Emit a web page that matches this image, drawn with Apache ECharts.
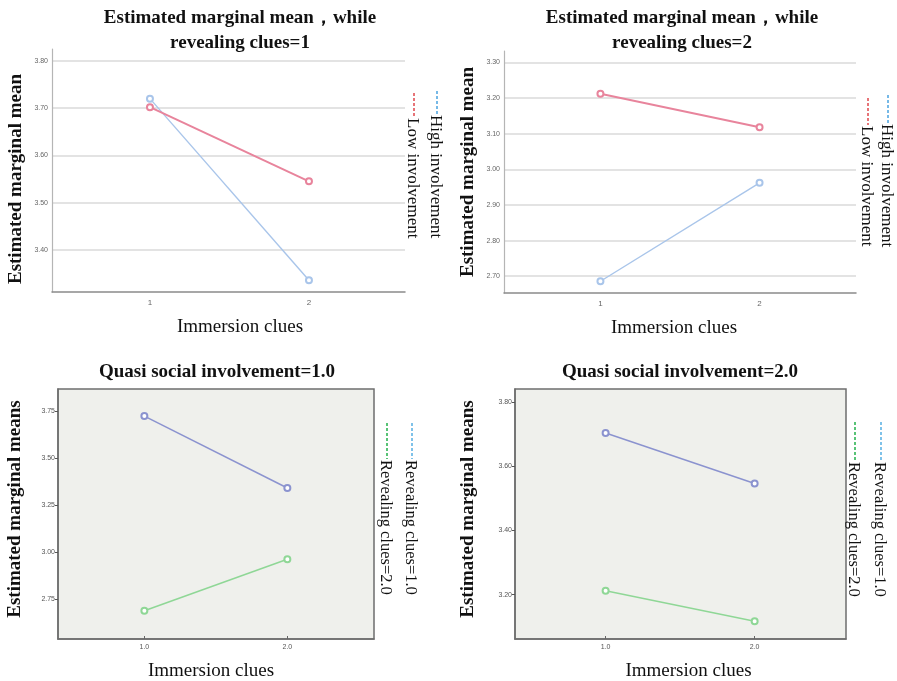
<!DOCTYPE html>
<html>
<head>
<meta charset="utf-8">
<script src="https://cdn.jsdelivr.net/npm/echarts@6/dist/echarts.min.js"></script>
<style>html,body{margin:0;padding:0;background:#fff}#c{width:897px;height:681px}</style>
</head>
<body>
<div id="c"></div>
<script>
// ---- data ----
const xCats = [1, 2];
const xLabelsTop = ['1', '2'];
const xLabelsBottom = ['1.0', '2.0'];
// Panel 1: revealing clues = 1
const p1High = [3.720, 3.336];
const p1Low = [3.702, 3.545];
// Panel 2: revealing clues = 2
const p2High = [2.686, 2.962];
const p2Low = [3.212, 3.118];
// Panel 3: quasi social involvement = 1.0
const p3Rev1 = [3.723, 3.340];
const p3Rev2 = [2.686, 2.961];
// Panel 4: quasi social involvement = 2.0
const p4Rev1 = [3.703, 3.546];
const p4Rev2 = [3.212, 3.117];
// tick values
const p1Ticks = [3.4, 3.5, 3.6, 3.7, 3.8];
const p2Ticks = [2.7, 2.8, 2.9, 3.0, 3.1, 3.2, 3.3];
const p3Ticks = [2.75, 3.00, 3.25, 3.50, 3.75];
const p4Ticks = [3.2, 3.4, 3.6, 3.8];

const pts = (ys) => xCats.map((x, i) => [x, ys[i]]);

const serif = '"Liberation Serif", "Times New Roman", serif';
const sans = '"Liberation Sans", Arial, sans-serif';

const cTopBlue = '#a9c5ea', cTopRed = '#e8849c';
const cBotBlue = '#8b93cf', cBotGreen = '#8fd796';

function xAxisTop(gi, min, max, nameShift) {
  return {
    type: 'value', gridIndex: gi, min: min, max: max,
    name: 'Immersion clues', nameLocation: 'middle', nameGap: 26,
    nameTextStyle: { fontFamily: serif, fontSize: 19, color: '#111', padding: nameShift },
    axisLine: { show: true, onZero: false, lineStyle: { color: '#8a8a8a', width: 1.5 } },
    axisTick: { show: false, customValues: xCats },
    axisLabel: { customValues: xCats, formatter: (v) => xLabelsTop[xCats.indexOf(v)], color: '#666', fontSize: 8, fontFamily: sans, margin: 7 },
    splitLine: { show: false }
  };
}
function yAxisTop(gi, min, max, ticks, namePad) {
  return {
    type: 'value', gridIndex: gi, min: min, max: max,
    name: 'Estimated marginal mean', nameLocation: 'middle', nameGap: 26, nameRotate: 90,
    nameTextStyle: { fontFamily: serif, fontSize: 19, fontWeight: 'bold', color: '#111', padding: namePad },
    axisLine: { show: true, lineStyle: { color: '#b5b5b5', width: 1.2 } },
    axisTick: { show: false, customValues: ticks },
    axisLabel: { customValues: ticks, formatter: (v) => v.toFixed(2), color: '#666', fontSize: 7, fontFamily: sans, margin: 4 },
    splitLine: { show: true, lineStyle: { color: '#dadada', width: 1.5 } }
  };
}
function xAxisBot(gi, min, max, nameShift) {
  return {
    type: 'value', gridIndex: gi, min: min, max: max,
    name: 'Immersion clues', nameLocation: 'middle', nameGap: 23,
    nameTextStyle: { fontFamily: serif, fontSize: 19, color: '#111', padding: nameShift },
    axisLine: { show: true, onZero: false, lineStyle: { color: '#6e6e6e', width: 1.5 } },
    axisTick: { show: true, inside: true, customValues: xCats, length: 3, lineStyle: { color: '#666' } },
    axisLabel: { customValues: xCats, formatter: (v) => xLabelsBottom[xCats.indexOf(v)], color: '#555', fontSize: 7, fontFamily: sans, margin: 5 },
    splitLine: { show: false }
  };
}
function yAxisBot(gi, min, max, ticks, nameGap) {
  return {
    type: 'value', gridIndex: gi, min: min, max: max,
    name: 'Estimated marginal means', nameLocation: 'middle', nameGap: nameGap, nameRotate: 90,
    nameTextStyle: { fontFamily: serif, fontSize: 19, fontWeight: 'bold', color: '#111', padding: [0, 0, 0, 10] },
    axisLine: { show: true, lineStyle: { color: '#6e6e6e', width: 1.5 } },
    axisTick: { show: true, customValues: ticks, length: 3, lineStyle: { color: '#555' } },
    axisLabel: { customValues: ticks, formatter: (v) => v.toFixed(2), color: '#555', fontSize: 7, fontFamily: sans, margin: 3 },
    splitLine: { show: false }
  };
}
function line(name, xi, data, color, width) {
  return {
    type: 'line', name: name, xAxisIndex: xi, yAxisIndex: xi, data: pts(data),
    symbol: 'emptyCircle', symbolSize: 6, showSymbol: true,
    lineStyle: { color: color, width: width }, itemStyle: { color: color, borderWidth: 1.3 },
    animation: false, silent: true
  };
}
function legendItem(label, cx, y1, y2, y3, color, fs) {
  return [
    { type: 'line', shape: { x1: cx + 2, y1: y1, x2: cx + 2, y2: y2 },
      style: { stroke: color, lineWidth: 1.5, lineDash: [3, 2] } },
    { type: 'text', x: cx, y: y3, rotation: -Math.PI / 2,
      style: { text: label, fontFamily: serif, fontSize: fs, fill: '#111', align: 'left', verticalAlign: 'middle' } }
  ];
}

const titleStyle = { fontFamily: serif, fontSize: 19, fontWeight: 'bold', color: '#111', lineHeight: 25 };

const option = {
  animation: false,
  backgroundColor: '#ffffff',
  title: [
    { text: 'Estimated marginal mean，while\nrevealing clues=1', left: 240, top: 6, padding: 0, textAlign: 'center', textStyle: titleStyle },
    { text: 'Estimated marginal mean，while\nrevealing clues=2', left: 682, top: 6, padding: 0, textAlign: 'center', textStyle: titleStyle },
    { text: 'Quasi social involvement=1.0', left: 217, top: 360, padding: 0, textAlign: 'center', textStyle: titleStyle },
    { text: 'Quasi social involvement=2.0', left: 680, top: 360, padding: 0, textAlign: 'center', textStyle: titleStyle }
  ],
  grid: [
    { left: 52, right: 492, top: 49, bottom: 389, outerBoundsMode: 'none' },
    { left: 504, right: 41, top: 51, bottom: 388, outerBoundsMode: 'none' },
    { left: 58, right: 523, top: 389, bottom: 42, outerBoundsMode: 'none', show: true, backgroundColor: '#eff0ec', borderColor: '#6e6e6e', borderWidth: 1.5 },
    { left: 515, right: 51, top: 389, bottom: 42, outerBoundsMode: 'none', show: true, backgroundColor: '#eff0ec', borderColor: '#6e6e6e', borderWidth: 1.5 }
  ],
  xAxis: [
    xAxisTop(0, 0.384, 2.604, [0, 0, 0, 23]),
    xAxisTop(1, 0.394, 2.606, [0, 12, 0, 0]),
    xAxisBot(2, 0.396, 2.606, [0, 10, 0, 0]),
    xAxisBot(3, 0.392, 2.613, [0, 0, 0, 16])
  ],
  yAxis: [
    yAxisTop(0, 3.311, 3.825, p1Ticks, [0, 17, 0, 0]),
    yAxisTop(1, 2.653, 3.332, p2Ticks, 0),
    yAxisBot(2, 2.536, 3.867, p3Ticks, 33),
    yAxisBot(3, 3.062, 3.840, p4Ticks, 37)
  ],
  series: [
    line('High involvement', 0, p1High, cTopBlue, 1.4),
    line('Low involvement', 0, p1Low, cTopRed, 2),
    line('High involvement', 1, p2High, cTopBlue, 1.4),
    line('Low involvement', 1, p2Low, cTopRed, 2),
    line('Revealing clues=1.0', 2, p3Rev1, cBotBlue, 1.5),
    line('Revealing clues=2.0', 2, p3Rev2, cBotGreen, 1.5),
    line('Revealing clues=1.0', 3, p4Rev1, cBotBlue, 1.5),
    line('Revealing clues=2.0', 3, p4Rev2, cBotGreen, 1.5)
  ],
  graphic: [].concat(
    legendItem('High involvement', 435, 91, 114, 115, '#4aa3df', 17),
    legendItem('Low involvement', 412, 93, 117, 118, '#e0474c', 17),
    legendItem('High involvement', 886, 95, 123, 124, '#4aa3df', 17),
    legendItem('Low involvement', 866, 98, 125, 126, '#e0474c', 17),
    legendItem('Revealing clues=1.0', 410, 423, 459, 460, '#56aee2', 16.5),
    legendItem('Revealing clues=2.0', 385, 423, 459, 460, '#22b04a', 16.5),
    legendItem('Revealing clues=1.0', 879, 422, 461, 462, '#56aee2', 16.5),
    legendItem('Revealing clues=2.0', 853, 422, 461, 462, '#22b04a', 16.5)
  )
};

const chart = echarts.init(document.getElementById('c'), null, { renderer: 'canvas' });
chart.setOption(option);
</script>
</body>
</html>
